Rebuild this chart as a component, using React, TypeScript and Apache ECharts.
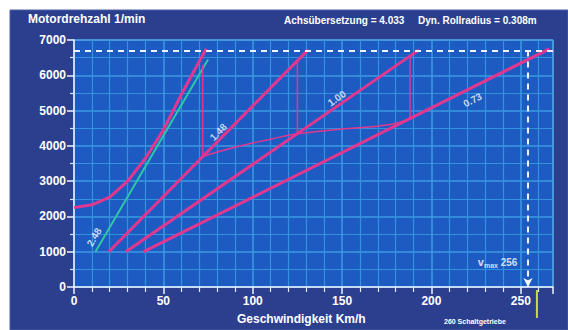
import React, { useEffect, useRef } from "react";
import * as echarts from "echarts";

// Speed in km/h, engine speed in 1/min
const converterCurve: [number, number][] = [
  [0, 2250], [10, 2330], [20, 2550], [30, 3000], [40, 3650],
  [50, 4450], [60, 5450], [68, 6200], [74, 6750],
];
const gear1Line: [number, number][] = [[12, 1000], [75, 6450]];
const gear2Line: [number, number][] = [[19.5, 1000], [131, 6720]];
const gear3Line: [number, number][] = [[29, 1000], [193, 6720]];
const gear4Line: [number, number][] = [[39, 1000], [266, 6750]];
const shiftDrops: [number, number][][] = [
  [[72, 6300], [72, 3700]],
  [[125, 6425], [125, 4340]],
  [[188, 6530], [188, 4770]],
];
const envelope: [number, number][] = [
  [72, 3700], [90, 3960], [110, 4190], [125, 4340], [150, 4480], [176, 4600], [188, 4770],
];
const gearNames = ["2.48", "1.48", "1.00", "0.73"];
const gearLabelPos: [number, number][] = [[11.2, 1415], [80.7, 4390], [147, 5350], [223, 5300]];
const maxRpm = 6700;
const vmax = 254;
const vmaxLabel = "256";
const vmaxLabelPos: [number, number] = [237, 700];
const vmaxManual = 259;
const manualNote = "260 Schaltgetriebe";
const yTitle = "Motordrehzahl 1/min";
const xTitle = "Geschwindigkeit Km/h";
const axleText = "Achsübersetzung = 4.033";
const radiusText = "Dyn. Rollradius = 0.308m";

const labelAngles = [60, 46, 35, 27];

export default function App() {
  const ref = useRef<HTMLDivElement>(null);
  useEffect(() => {
    if (!ref.current) return;
    const chart = echarts.init(ref.current, null, { renderer: "svg" });
    const magenta = "#e2378f";
    const font = "Liberation Sans, Arial, sans-serif";
    const thick = (data: [number, number][], color = magenta, width = 3) => ({
      type: "line",
      data,
      showSymbol: false,
      symbol: "none",
      lineStyle: { color, width },
      z: 3,
    });
    const series: any[] = [
      thick(gear1Line, "#2fc6a8", 2),
      thick(converterCurve),
      thick(gear2Line),
      thick(gear3Line),
      thick(gear4Line),
      ...shiftDrops.map((d) => thick(d, magenta, 1.5)),
      { ...thick(envelope, magenta, 1.5), smooth: true },
      {
        type: "scatter",
        symbolSize: 0,
        z: 5,
        data: gearNames.map((n, i) => ({
          name: n,
          value: gearLabelPos[i],
          label: {
            show: true,
            position: "inside",
            formatter: n,
            rotate: labelAngles[i],
            color: "#f4f4ff",
            fontWeight: "bold",
            fontSize: 10,
            fontFamily: font,
          },
        })),
      },
      {
        type: "scatter",
        symbolSize: 0,
        z: 5,
        data: [
          {
            value: vmaxLabelPos,
            label: {
              show: true,
              position: "inside",
              formatter: "{v|v}{s|max} " + vmaxLabel,
              color: "#ffffff",
              fontWeight: "bold",
              fontFamily: font,
              rich: {
                v: { fontSize: 11, fontWeight: "bold", color: "#fff", fontFamily: font },
                s: { fontSize: 7, fontWeight: "bold", color: "#fff", verticalAlign: "bottom", padding: [6, 0, 0, 0], fontFamily: font },
              },
              fontSize: 10,
            },
          },
        ],
      },
      {
        type: "line",
        data: [],
        markLine: {
          silent: true,
          symbol: "none",
          label: { show: false },
          lineStyle: { color: "#f0f4ff", type: [6, 5], width: 2 },
          data: [
            [{ coord: [0, maxRpm] }, { coord: [268, maxRpm] }],
            [
              { coord: [vmax, maxRpm], symbol: "none" },
              { coord: [vmax, 0], symbol: "arrow", symbolSize: [7, 9] },
            ],
          ],
        },
      },
    ];

    const option: any = {
      animation: false,
      backgroundColor: "#ffffff",
      grid: {
        left: 74,
        right: 15,
        top: 40,
        bottom: 43,
        show: true,
        backgroundColor: "#1d5bc2",
        borderColor: "#b8cdee",
        borderWidth: 1,
      },
      xAxis: {
        type: "value",
        min: 0,
        max: 268,
        interval: 50,
        axisLine: { show: true, lineStyle: { color: "#eef2ff", width: 1.5 } },
        axisTick: { show: true, length: 7, lineStyle: { color: "#eef2ff", width: 1.5 } },
        minorTick: { show: true, splitNumber: 5, length: 5, lineStyle: { color: "#dfe8ff", width: 1.2 } },
        axisLabel: {
          color: "#ffffff",
          fontWeight: "bold",
          fontSize: 12,
          fontFamily: font,
          margin: 8,
          showMaxLabel: false,
        },
        splitLine: { show: true, lineStyle: { color: "#3b9ae2", width: 1.5 } },
        minorSplitLine: { show: true, lineStyle: { color: "#3293dc", width: 1.2 } },
      },
      yAxis: {
        type: "value",
        min: 0,
        max: 7000,
        interval: 1000,
        axisLine: { show: true, lineStyle: { color: "#eef2ff", width: 1.5 } },
        axisTick: { show: true, length: 7, lineStyle: { color: "#eef2ff", width: 1.5 } },
        minorTick: { show: true, splitNumber: 2, length: 4, lineStyle: { color: "#dfe8ff", width: 1.2 } },
        axisLabel: {
          color: "#ffffff",
          fontWeight: "bold",
          fontSize: 12,
          fontFamily: font,
          margin: 8,
          formatter: (v: number) => String(v),
        },
        splitLine: { show: true, lineStyle: { color: "#3b9ae2", width: 1.5 } },
        minorSplitLine: { show: true, lineStyle: { color: "#3293dc", width: 1.2 } },
      },
      series,
    };
    chart.setOption(option);

    const yellowX = chart.convertToPixel({ xAxisIndex: 0 }, vmaxManual) as number;
    chart.setOption({
      graphic: [
        {
          type: "rect",
          z: -10,
          silent: true,
          shape: { x: 10, y: 10, width: 558, height: 320 },
          style: { fill: "#2b3f8e", stroke: "#4a5fa8", lineWidth: 1 },
        },
        {
          type: "text",
          left: 28,
          top: 13,
          style: { text: yTitle, fill: "#ffffff", font: `bold 12px ${font}` },
        },
        {
          type: "text",
          left: 284,
          top: 15,
          style: { text: axleText, fill: "#ffffff", font: `bold 10px ${font}` },
        },
        {
          type: "text",
          left: 418,
          top: 15,
          style: { text: radiusText, fill: "#ffffff", font: `bold 10px ${font}` },
        },
        {
          type: "text",
          left: 237,
          top: 313,
          style: { text: xTitle, fill: "#ffffff", font: `bold 12px ${font}` },
        },
        {
          type: "text",
          left: 444,
          top: 318,
          style: { text: manualNote, fill: "#ffffff", font: `bold 7px ${font}` },
        },
        {
          type: "line",
          shape: { x1: yellowX, y1: 290, x2: yellowX, y2: 318 },
          style: { stroke: "#c8dc48", lineWidth: 2 },
        },
      ],
    });
    return () => chart.dispose();
  }, []);
  return (
    <div
      ref={ref}
      style={{ position: "fixed", left: 0, top: 0, width: 568, height: 330 }}
    />
  );
}
